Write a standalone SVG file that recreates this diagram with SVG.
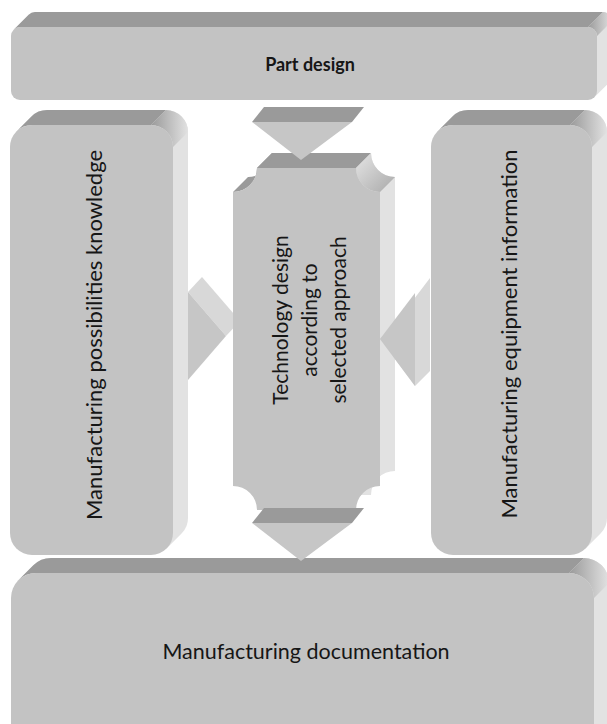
<svg xmlns="http://www.w3.org/2000/svg" width="607" height="724" viewBox="0 0 607 724">
  <defs>
    <linearGradient id="cornerShade" x1="0" y1="0" x2="1" y2="0">
      <stop offset="0" stop-color="#9a9a9a"/>
      <stop offset="1" stop-color="#e2e2e2"/>
    </linearGradient>
    <linearGradient id="hollowShade" x1="0" y1="0" x2="1" y2="1">
      <stop offset="0" stop-color="#e6e6e6"/>
      <stop offset="1" stop-color="#a9a9a9"/>
    </linearGradient>
  </defs>
  <style>
    .side { fill: #e2e2e2; }
    .top { fill: #9a9a9a; }
    .corner { fill: url(#cornerShade); }
    .front { fill: #c3c3c3; }
    .arrow-front { fill: #c6c6c6; }
    .arrow-light { fill: #d8d8d8; }
    .label { font-family: Lato, "Liberation Sans", sans-serif; fill: #161616; text-anchor: middle; }
  </style>

  <!-- Part design: wide slab along the top -->
  <g id="part-design">
    <path class="side" d="M13.64,29.64 L28.64,14.64 A9,9 0 0 1 35,12 L603,12 A9,9 0 0 1 612,21 L612,76 A9,9 0 0 1 609.36,82.36 L594.36,97.36 Z"/>
    <path class="top" d="M13.64,29.64 L28.64,14.64 A9,9 0 0 1 35,12 L603,12 L588,27 L20,27 A9,9 0 0 0 13.64,29.64 Z"/>
    <path class="corner" d="M588,27 L603,12 A9,9 0 0 1 612,21 L597,36 A9,9 0 0 0 588,27 Z"/>
    <rect class="front" x="11" y="27" width="586" height="73" rx="9"/>
    <text class="label" x="310" y="71" font-size="18" font-weight="bold">Part design</text>
  </g>

  <!-- Manufacturing documentation: wide slab along the bottom -->
  <g id="manufacturing-documentation">
    <path class="side" d="M18.32,580.32 L33.32,565.32 A25,25 0 0 1 51,558 L584,558 A25,25 0 0 1 609,583 L609,760 L594,775 Z"/>
    <path class="top" d="M18.32,580.32 L33.32,565.32 A25,25 0 0 1 51,558 L584,558 L569,573 L36,573 A25,25 0 0 0 18.32,580.32 Z"/>
    <path class="corner" d="M569,573 L584,558 A25,25 0 0 1 609,583 L594,598 A25,25 0 0 0 569,573 Z"/>
    <rect class="front" x="11" y="573" width="583" height="220" rx="25"/>
    <text class="label" x="306" y="659" font-size="21.5">Manufacturing documentation</text>
  </g>

  <!-- Manufacturing possibilities knowledge: left column -->
  <g id="possibilities-knowledge">
    <path class="side" d="M16.44,131.44 L31.44,116.44 A22,22 0 0 1 47,110 L166,110 A22,22 0 0 1 188,132 L188,518 A22,22 0 0 1 181.56,533.56 L166.56,548.56 Z"/>
    <path class="top" d="M16.44,131.44 L31.44,116.44 A22,22 0 0 1 47,110 L166,110 L151,125 L32,125 A22,22 0 0 0 16.44,131.44 Z"/>
    <path class="corner" d="M151,125 L166,110 A22,22 0 0 1 188,132 L173,147 A22,22 0 0 0 151,125 Z"/>
    <rect class="front" x="10" y="125" width="163" height="430" rx="22"/>
    <text class="label" transform="translate(102,335) rotate(-90)" font-size="22">Manufacturing possibilities knowledge</text>
  </g>

  <!-- Manufacturing equipment information: right column -->
  <g id="equipment-information">
    <path class="side" d="M437.44,131.44 L452.44,116.44 A22,22 0 0 1 468,110 L585,110 A22,22 0 0 1 607,132 L607,518 A22,22 0 0 1 600.56,533.56 L585.56,548.56 Z"/>
    <path class="top" d="M437.44,131.44 L452.44,116.44 A22,22 0 0 1 468,110 L585,110 L570,125 L453,125 A22,22 0 0 0 437.44,131.44 Z"/>
    <path class="corner" d="M570,125 L585,110 A22,22 0 0 1 607,132 L592,147 A22,22 0 0 0 570,125 Z"/>
    <rect class="front" x="431" y="125" width="161" height="430" rx="22"/>
    <text class="label" transform="translate(517,334) rotate(-90)" font-size="22">Manufacturing equipment information</text>
  </g>

  <g id="connectors">
    <!-- left block arrow, partly tucked behind the centre plaque -->
    <g id="arrow-left">
      <path class="arrow-light" d="M188,292 L202,277 L240,321 L226,336 Z"/>
      <path class="arrow-front" d="M188,292 L226,336 L188,380 Z"/>
    </g>
  </g>

  <!-- Technology design: centre plaque with hollowed corners -->
  <g id="technology-design">
    <path class="side" d="M272,153 L371,153 A24,24 0 0 0 395,177 L395,471 A24,24 0 0 0 371,495 L272,495 A24,24 0 0 0 248,471 L248,177 A24,24 0 0 0 272,153 Z"/>
    <path class="top" d="M257,168 L272,153 L371,153 L356,168 Z"/>
    <path class="top" d="M233,192 L248,177 A24,24 0 0 0 272,153 L257,168 A24,24 0 0 1 233,192 Z"/>
    <path fill="url(#hollowShade)" d="M356,168 A24,24 0 0 0 380,192 L395,177 A24,24 0 0 1 371,153 Z"/>
    <path class="front" d="M257,168 L356,168 A24,24 0 0 0 380,192 L380,486 A24,24 0 0 0 356,510 L257,510 A24,24 0 0 0 233,486 L233,192 A24,24 0 0 0 257,168 Z"/>
    <text class="label" transform="translate(288,320) rotate(-90)" font-size="21">Technology design</text>
    <text class="label" transform="translate(317,320) rotate(-90)" font-size="21">according to</text>
    <text class="label" transform="translate(346,320) rotate(-90)" font-size="21">selected approach</text>
  </g>

  <g id="connectors-front">
    <!-- down arrow from Part design into the plaque -->
    <g id="arrow-top">
      <path class="top" d="M252,122 L264,107 L364,107 L352,122 Z"/>
      <path class="arrow-front" d="M252,122 L352,122 L301,160 Z"/>
    </g>
    <!-- right block arrow pointing back at the plaque -->
    <g id="arrow-right">
      <path class="arrow-light" d="M380,339 L395,324 L430,278 L430,371 L415,386 Z"/>
      <path class="arrow-front" d="M380,339 L415,293 L415,386 Z"/>
    </g>
    <!-- down arrow from the plaque into Manufacturing documentation -->
    <g id="arrow-bottom">
      <path class="top" d="M252,523 L264,508 L364,508 L352,523 Z"/>
      <path class="arrow-front" d="M252,523 L352,523 L301,561 Z"/>
    </g>
  </g>
</svg>
